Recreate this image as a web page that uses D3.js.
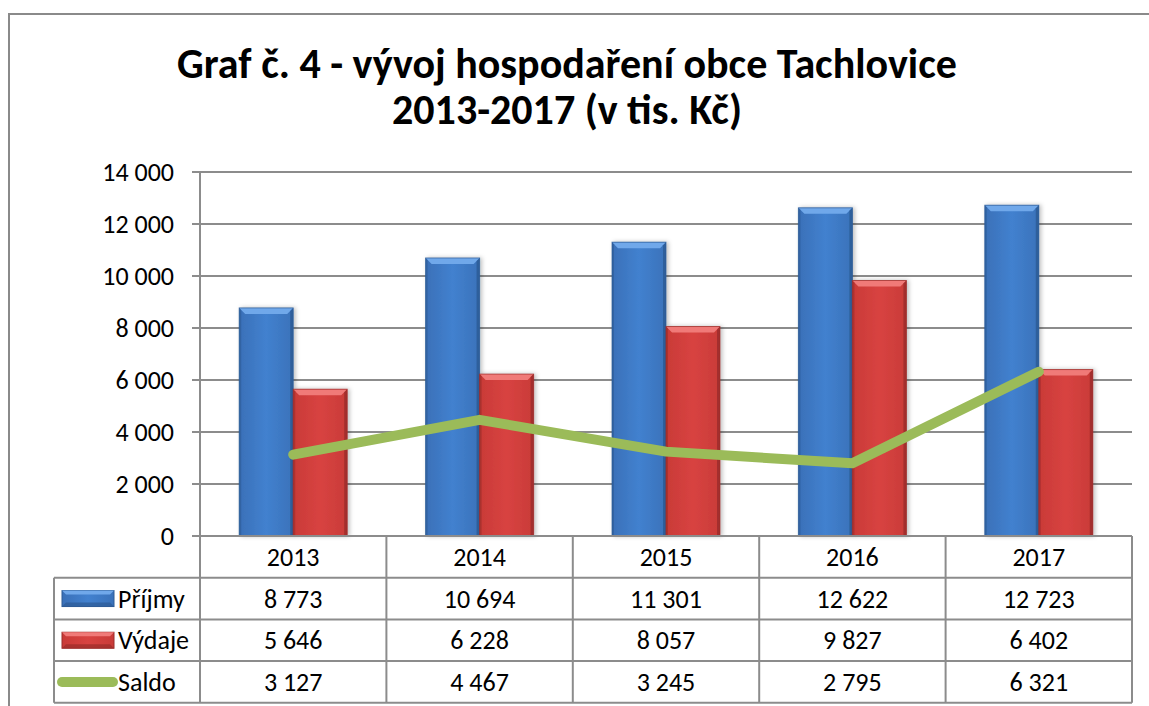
<html>
<head>
  <style>
  body { margin: 0; background: #fff; }
  #chart text { font-family: Carlito, Calibri, Lato, sans-serif; fill: #000; }
  </style>
  <script src="https://d3js.org/d3.v7.min.js"></script>
</head>
<body>
  <svg id="chart"></svg>
</body>
  <script>

  var years = ["2013", "2014", "2015", "2016", "2017"];
  var prijmy = [8773, 10694, 11301, 12622, 12723];
  var vydaje = [5646, 6228, 8057, 9827, 6402];
  var saldo = [3127, 4467, 3245, 2795, 6321];
  var yTicks = [0, 2000, 4000, 6000, 8000, 10000, 12000, 14000];
  var seriesNames = ["Příjmy", "Výdaje", "Saldo"];

  var width = 1149,
      height = 706;
  var plotLeft = 200, plotRight = 1132, plotTop = 172, plotBottom = 536;
  var rowH = 41.7, tableLeft = 54;
  var fs = "26px";

  var fmt = function(v) { return d3.format(",")(v).replace(/,/g, " "); };

  var svg = d3.select("#chart")
      .attr("width", width)
      .attr("height", height);

  var defs = svg.append("defs");
  function grad(id, stops) {
    var g = defs.append("linearGradient").attr("id", id)
        .attr("x1", 0).attr("x2", 1).attr("y1", 0).attr("y2", 0);
    stops.forEach(function(s) {
      g.append("stop").attr("offset", s[0]).attr("stop-color", s[1]);
    });
  }
  grad("blueG", [[0, "#3a70b8"], [0.5, "#4281cf"], [1, "#3a72ba"]]);
  grad("redG", [[0, "#c93a37"], [0.5, "#d84341"], [1, "#c93b38"]]);
  var sh = defs.append("filter").attr("id", "shadow")
      .attr("x", "-20%").attr("y", "-5%").attr("width", "140%").attr("height", "110%");
  sh.append("feDropShadow").attr("dx", 2).attr("dy", 0).attr("stdDeviation", 2)
      .attr("flood-color", "#000").attr("flood-opacity", 0.25);

  // outer frame
  svg.append("path")
      .attr("d", "M9,706 V14 H1149")
      .attr("fill", "none").attr("stroke", "#8a8a8a").attr("stroke-width", 2);

  // title
  var title = svg.append("text")
      .attr("text-anchor", "middle")
      .style("font-weight", "bold").style("font-size", "42px");
  title.append("tspan").attr("x", 567).attr("y", 78).text("Graf č. 4 - vývoj hospodaření obce Tachlovice");
  title.append("tspan").attr("x", 567).attr("y", 124).text("2013-2017 (v tis. Kč)");

  var x = d3.scaleBand()
      .domain(years)
      .range([plotLeft, plotRight]);

  var y = d3.scaleLinear()
      .domain([0, 14000])
      .range([plotBottom, plotTop]);

  var barW = 54;

  // gridlines
  svg.append("g").selectAll("line")
      .data(yTicks)
    .enter().append("line")
      .attr("x1", plotLeft - 8).attr("x2", plotRight)
      .attr("y1", function(d) { return y(d); })
      .attr("y2", function(d) { return y(d); })
      .attr("stroke", "#8c8c8c").attr("stroke-width", 2);

  svg.append("line")
      .attr("x1", plotLeft).attr("x2", plotLeft).attr("y1", plotTop).attr("y2", plotBottom)
      .attr("stroke", "#8c8c8c").attr("stroke-width", 2);

  // y labels
  svg.append("g").selectAll("text")
      .data(yTicks)
    .enter().append("text")
      .attr("x", plotLeft - 26)
      .attr("y", function(d) { return y(d); })
      .attr("dy", "0.35em")
      .attr("text-anchor", "end")
      .style("font-size", fs)
      .text(function(d) { return fmt(d); });

  // bars with bevel
  function drawBars(values, offset, fillId, light, dark) {
    var g = svg.append("g");
    values.forEach(function(v, i) {
      var x0 = x(years[i]) + x.bandwidth() / 2 + offset,
          x1 = x0 + barW,
          y0 = y(v),
          y1 = y(0),
          b = 6;
      var bar = g.append("g").attr("filter", "url(#shadow)");
      bar.append("rect")
          .attr("x", x0).attr("y", y0).attr("width", barW).attr("height", y1 - y0)
          .attr("fill", "url(#" + fillId + ")");
      bar.append("polygon")
          .attr("points", [[x0, y0], [x1, y0], [x1 - b, y0 + b], [x0 + b, y0 + b]].join(" "))
          .attr("fill", light);
      bar.append("polygon")
          .attr("points", [[x0, y0], [x0 + 2, y0 + 2], [x0 + 2, y1], [x0, y1]].join(" "))
          .attr("fill", dark).attr("opacity", 0.6);
      bar.append("polygon")
          .attr("points", [[x1, y0], [x1 - 3, y0 + 3], [x1 - 3, y1], [x1, y1]].join(" "))
          .attr("fill", dark).attr("opacity", 0.8);
      bar.append("rect")
          .attr("x", x0).attr("y", y0).attr("width", barW).attr("height", y1 - y0)
          .attr("fill", "none").attr("stroke", dark).attr("stroke-width", 1).attr("opacity", 0.7);
    });
  }
  drawBars(prijmy, -barW, "blueG", "#70a8ea", "#2c5a94");
  drawBars(vydaje, 0, "redG", "#f07a78", "#9a2c2a");

  // saldo line
  var line = d3.line()
      .x(function(d, i) { return x(years[i]) + x.bandwidth() / 2; })
      .y(function(d) { return y(d); });

  svg.append("path")
      .datum(saldo)
      .attr("d", line)
      .attr("fill", "none")
      .attr("stroke", "#9bbb59")
      .attr("stroke-width", 10)
      .attr("stroke-linecap", "round")
      .attr("stroke-linejoin", "round");

  // data table
  var tg = svg.append("g").attr("fill", "none").attr("stroke", "#8c8c8c").attr("stroke-width", 2);
  [1, 2, 3].forEach(function(r) {
    tg.append("line").attr("x1", tableLeft).attr("x2", plotRight)
        .attr("y1", plotBottom + r * rowH).attr("y2", plotBottom + r * rowH);
  });
  tg.append("line").attr("x1", plotLeft).attr("x2", plotRight).attr("y1", plotBottom).attr("y2", plotBottom);
  tg.append("line").attr("x1", tableLeft).attr("x2", tableLeft)
      .attr("y1", plotBottom + rowH).attr("y2", plotBottom + 4 * rowH);
  tg.append("line").attr("x1", tableLeft).attr("x2", plotRight)
      .attr("y1", plotBottom + 4 * rowH).attr("y2", plotBottom + 4 * rowH);
  years.forEach(function(yr) {
    tg.append("line").attr("x1", x(yr)).attr("x2", x(yr))
        .attr("y1", plotBottom).attr("y2", plotBottom + 4 * rowH);
  });
  tg.append("line").attr("x1", plotRight).attr("x2", plotRight)
      .attr("y1", plotBottom).attr("y2", plotBottom + 4 * rowH);

  var rows = [years, prijmy.map(fmt), vydaje.map(fmt), saldo.map(fmt)];
  rows.forEach(function(row, r) {
    svg.append("g").selectAll("text")
        .data(row)
      .enter().append("text")
        .attr("x", function(d, i) { return x(years[i]) + x.bandwidth() / 2; })
        .attr("y", plotBottom + r * rowH + rowH / 2)
        .attr("dy", "0.35em")
        .attr("text-anchor", "middle")
        .style("font-size", fs)
        .text(function(d) { return d; });
  });

  // legend keys
  var keyY = function(r) { return plotBottom + r * rowH + rowH / 2; };
  function legendBar(r, fillId, light, dark) {
    var k = svg.append("g");
    var x0 = 62, x1 = 114, y0 = keyY(r) - 8, y1 = keyY(r) + 8, b = 4;
    k.append("rect").attr("x", x0).attr("y", y0).attr("width", x1 - x0).attr("height", y1 - y0)
        .attr("fill", "url(#" + fillId + ")").attr("stroke", dark).attr("stroke-width", 1);
    k.append("polygon")
        .attr("points", [[x0, y0], [x1, y0], [x1 - b, y0 + b], [x0 + b, y0 + b]].join(" "))
        .attr("fill", light);
    k.append("polygon")
        .attr("points", [[x0, y1], [x1, y1], [x1 - b, y1 - b], [x0 + b, y1 - b]].join(" "))
        .attr("fill", dark).attr("opacity", 0.7);
  }
  legendBar(1, "blueG", "#70a8ea", "#2c5a94");
  legendBar(2, "redG", "#f07a78", "#9a2c2a");
  svg.append("line")
      .attr("x1", 62).attr("x2", 113)
      .attr("y1", keyY(3)).attr("y2", keyY(3))
      .attr("stroke", "#9bbb59").attr("stroke-width", 10).attr("stroke-linecap", "round");

  seriesNames.forEach(function(n, i) {
    svg.append("text")
        .attr("x", 118)
        .attr("y", keyY(i + 1))
        .attr("dy", "0.35em")
        .style("font-size", fs)
        .text(n);
  });

  </script>
</html>
